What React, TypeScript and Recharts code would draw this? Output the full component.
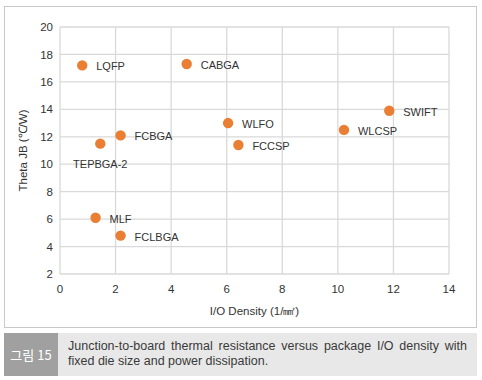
import React from 'react';
import { ScatterChart, Scatter, XAxis, YAxis, CartesianGrid } from 'recharts';

const packages = ['LQFP', 'CABGA', 'WLFO', 'FCCSP', 'SWIFT', 'WLCSP', 'FCBGA', 'TEPBGA-2', 'MLF', 'FCLBGA'];
const ioDensity = [0.8, 4.56, 6.05, 6.42, 11.85, 10.22, 2.18, 1.45, 1.28, 2.18];
const thetaJB = [17.2, 17.3, 13.0, 11.4, 13.9, 12.5, 12.1, 11.5, 6.1, 4.8];
const xTicks = [0, 2, 4, 6, 8, 10, 12, 14];
const yTicks = [2, 4, 6, 8, 10, 12, 14, 16, 18, 20];

const data = packages.map((name, i) => ({ name, x: ioDensity[i], y: thetaJB[i] }));

const FONT = '"Liberation Sans", Arial, sans-serif';
const ORANGE = '#EA7F34';

// dot plus its name; TEPBGA-2 sits under its dot in the original
const Dot = (props: any) => {
  const { cx, cy, payload } = props;
  const below = payload.name === 'TEPBGA-2';
  return (
    <g>
      <circle cx={cx} cy={cy} r={5.2} fill={ORANGE} />
      <text
        x={below ? cx : cx + 14}
        y={below ? cy + 24 : cy + 5}
        textAnchor={below ? 'middle' : 'start'}
        fontSize={11}
        fontFamily={FONT}
        fill="#333"
      >
        {payload.name}
      </text>
    </g>
  );
};

export default function App() {
  return (
    <div style={{ position: 'absolute', left: 0, top: 0, width: 482, height: 380, background: '#fff', fontFamily: FONT }}>
      {/* chart frame */}
      <div style={{ position: 'absolute', left: 4, top: 6, width: 471, height: 320, border: '1px solid #c8c8c8' }} />
      <div style={{ position: 'absolute', left: 0, top: 0 }}>
        <ScatterChart width={482} height={330} margin={{ top: 27, right: 33, bottom: 0, left: 0 }}>
          <CartesianGrid stroke="#d9d9d9" strokeWidth={1.3} />
          <XAxis
            type="number"
            dataKey="x"
            domain={[0, 14]}
            ticks={xTicks}
            axisLine={false}
            tickLine={false}
            tickSize={0}
            tickMargin={11}
            height={56}
            tick={{ fontSize: 11.5, fill: '#333', fontFamily: FONT }}
            label={{ value: 'I/O Density (1/㎟)', position: 'insideBottom', offset: 15, fontSize: 11.5, fill: '#333', fontFamily: FONT }}
          />
          <YAxis
            type="number"
            dataKey="y"
            domain={[2, 20]}
            ticks={yTicks}
            axisLine={false}
            tickLine={false}
            tickSize={0}
            tickMargin={7}
            width={60}
            tick={{ fontSize: 11.5, fill: '#333', fontFamily: FONT }}
            label={{
              value: 'Theta JB (℃/W)',
              angle: -90,
              position: 'insideLeft',
              offset: 23,
              fontSize: 11.5,
              fill: '#333',
              fontFamily: FONT,
              style: { textAnchor: 'middle' },
            }}
          />
          <Scatter data={data} shape={Dot} isAnimationActive={false} />
        </ScatterChart>
      </div>
      {/* caption */}
      <div style={{ position: 'absolute', left: 4, top: 333, width: 473, height: 43, display: 'flex', background: '#e8e8e8' }}>
        <div
          style={{
            width: 54,
            background: '#a0a0a0',
            color: '#fff',
            fontSize: 13,
            fontFamily: '"Noto Sans CJK KR", sans-serif',
            display: 'flex',
            alignItems: 'center',
            justifyContent: 'center',
          }}
        >
          그림 15
        </div>
        <div
          style={{
            flex: 1,
            padding: '6px 10px 0 10px',
            fontSize: 12.5,
            lineHeight: '15px',
            color: '#3a3a3a',
            textAlign: 'justify',
          }}
        >
          Junction-to-board thermal resistance versus package I/O density with fixed die size and power dissipation.
        </div>
      </div>
    </div>
  );
}
